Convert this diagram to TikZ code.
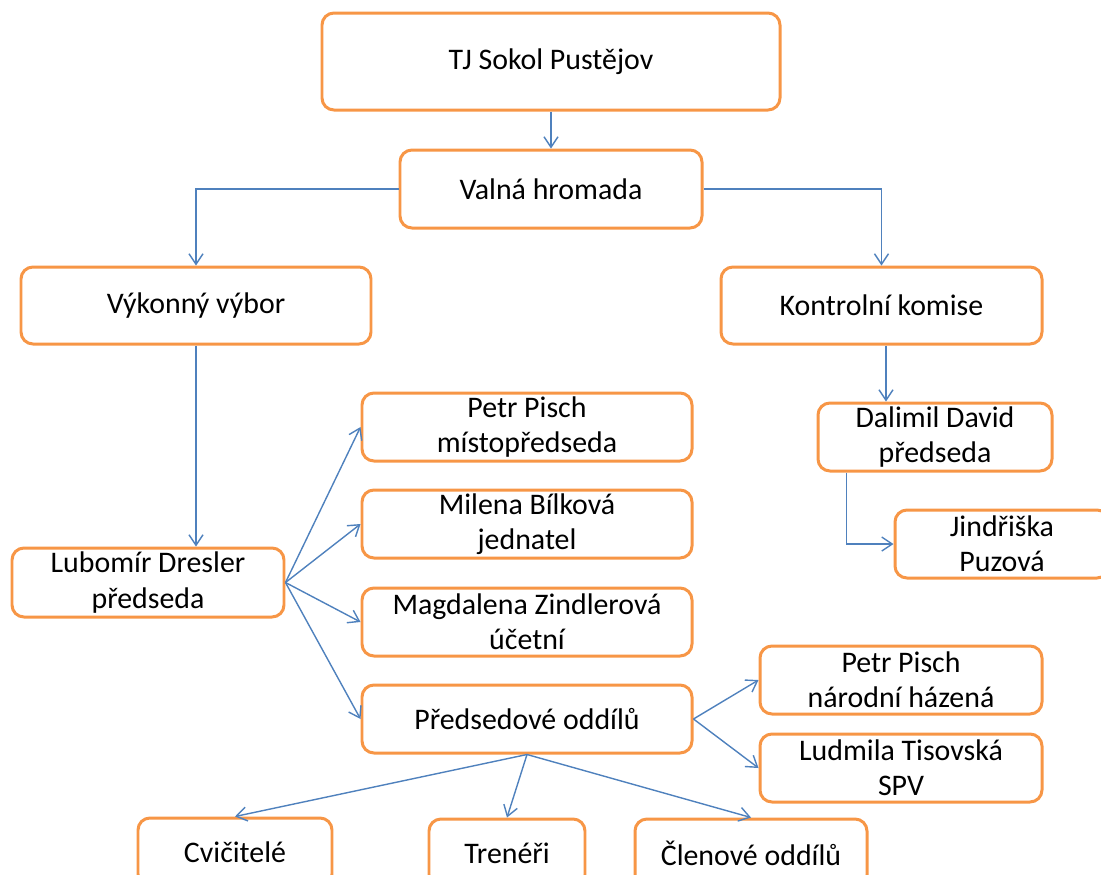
\documentclass[tikz,border=0pt]{standalone}
\usepackage{fontspec}
\setmainfont{Carlito}
\usetikzlibrary{arrows.meta}
\definecolor{boxorange}{HTML}{F79646}
\definecolor{lineblue}{HTML}{4F81BD}
\tikzset{
  orgbox/.style={draw=boxorange, line width=1.7pt, rounded corners=0.24cm, fill=white,
    align=center, inner sep=0pt, font=\fontsize{17}{20}\selectfont, minimum height=1.36cm},
  link/.style={draw=lineblue, line width=0.8pt, -{Straight Barb[length=6pt,width=8pt]}}
}
\begin{document}
\begin{tikzpicture}
\useasboundingbox (0,0) rectangle (22.02,-17.48);
\clip (0,0) rectangle (22.02,-17.48);
% top of the organisation
\node[orgbox, minimum width=9.16cm, minimum height=1.94cm] (tj) at (11.02,-1.23) {TJ Sokol Pustějov};
\node[orgbox, minimum width=6.04cm, minimum height=1.56cm] (valna) at (11.02,-3.78) {Valná hromada};
\node[orgbox, minimum width=7cm, minimum height=1.54cm] (vybor) at (3.92,-6.11) {Výkonný výbor};
\node[orgbox, minimum width=6.42cm, minimum height=1.54cm] (komise) at (17.63,-6.11) {Kontrolní komise};
% kontrolni komise
\node[orgbox, minimum width=4.68cm] (david) at (18.7,-8.74) {Dalimil David\\předseda};
\node[orgbox, minimum width=4.28cm] (puzova) at (20.04,-10.88) {Jindřiška\\Puzová};
% vykonny vybor
\node[orgbox, minimum width=5.44cm, minimum height=1.38cm] (dresler) at (2.96,-11.65) {Lubomír Dresler\\předseda};
\node[orgbox, minimum width=6.6cm] (pisch) at (10.54,-8.54) {Petr Pisch\\místopředseda};
\node[orgbox, minimum width=6.6cm] (bilkova) at (10.54,-10.48) {Milena Bílková\\jednatel};
\node[orgbox, minimum width=6.6cm] (zindlerova) at (10.54,-12.44) {Magdalena Zindlerová\\účetní};
\node[orgbox, minimum width=6.6cm] (oddily) at (10.54,-14.38) {Předsedové oddílů};
% oddily
\node[orgbox, minimum width=5.64cm] (hazena) at (18.02,-13.6) {Petr Pisch\\národní házená};
\node[orgbox, minimum width=5.64cm] (spv) at (18.02,-15.36) {Ludmila Tisovská\\SPV};
\node[orgbox, minimum width=3.88cm] (cvicitele) at (4.7,-17.04) {Cvičitelé};
\node[orgbox, minimum width=3.12cm] (treneri) at (10.14,-17.06) {Trenéři};
\node[orgbox, minimum width=4.64cm] (clenove) at (15.02,-17.06) {Členové oddílů};

\draw[link] (tj) -- (valna);
\draw[link] (valna.west) -| (vybor.north);
\draw[link] (valna.east) -| (komise.north);
\draw[link] (vybor.south) -- (vybor.south |- dresler.north);
\draw[link] ([xshift=0.09cm]komise.south) -- ([xshift=0.09cm]komise.south |- david.north);
\draw[link] ([xshift=0.6cm]david.south west) |- (puzova.west);
\foreach \n in {pisch,bilkova,zindlerova,oddily}
  \draw[link] (dresler.east) -- (\n.west);
\foreach \n in {hazena,spv}
  \draw[link] (oddily.east) -- (\n.west);
\foreach \n in {cvicitele,treneri,clenove}
  \draw[link] (oddily.south) -- (\n.north);
\end{tikzpicture}
\end{document}
